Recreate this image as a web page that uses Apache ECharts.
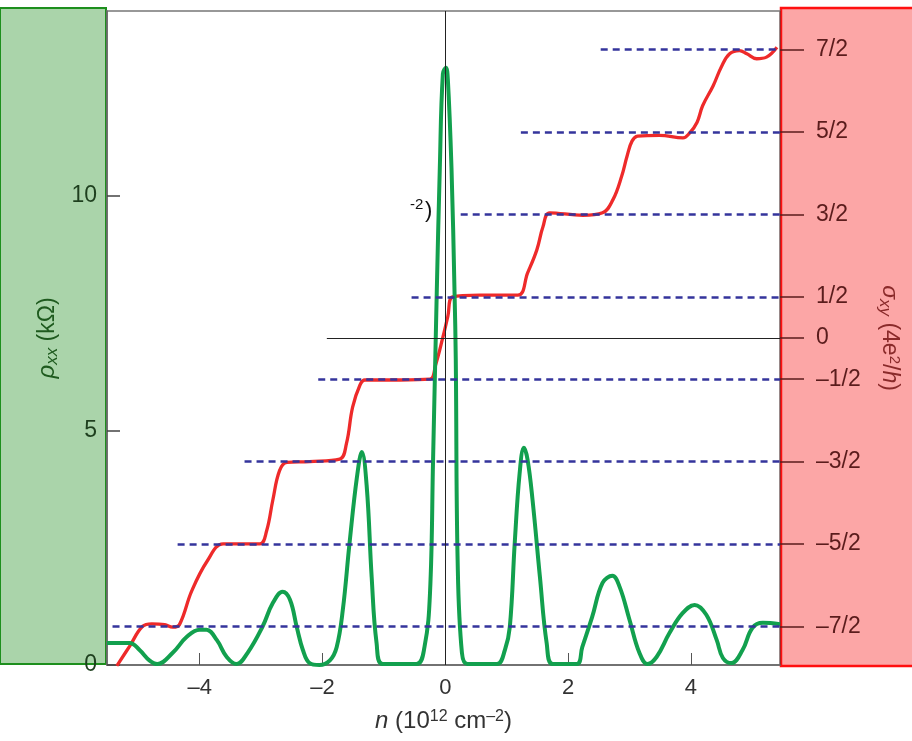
<!DOCTYPE html>
<html>
<head>
<meta charset="utf-8">
<script src="https://cdn.jsdelivr.net/npm/echarts@6/dist/echarts.min.js"></script>
<style>
  html, body { margin: 0; padding: 0; background: #fff; }
  #chart { width: 912px; height: 741px; }
</style>
</head>
<body>
<div id="chart"></div>
<script>
// rho_xx (kOhm) vs n, left axis
const rhoN = [-5.51, -5.14, -4.98, -4.82, -4.69, -4.44, -4.21, -4.00, -3.89, -3.72, -3.56, -3.40,
  -3.22, -2.98, -2.81, -2.65, -2.53, -2.42, -2.32, -2.21, -2.05, -1.88, -1.77, -1.67, -1.56,
  -1.44, -1.36, -1.28, -1.20, -1.12, -1.02, -0.47, -0.34, -0.25, -0.20, -0.14, -0.09, -0.04,
  0.01, 0.04, 0.10, 0.15, 0.17, 0.20, 0.27, 0.36, 0.84, 0.97, 1.05, 1.13, 1.21, 1.28, 1.34,
  1.42, 1.54, 1.65, 1.75, 2.14, 2.23, 2.39, 2.56, 2.72, 2.84, 3.00, 3.16, 3.29, 3.44, 3.65,
  3.86, 4.06, 4.25, 4.42, 4.52, 4.66, 4.84, 5.00, 5.17, 5.45]
const rhoVal = [0.47, 0.47, 0.32, 0.10, 0.02, 0.26, 0.60, 0.75, 0.75, 0.53, 0.17, 0.02,
  0.26, 0.81, 1.32, 1.56, 1.39, 0.81, 0.32, 0.04, 0.00, 0.10, 0.38, 1.17, 2.60,
  4.00, 4.54, 3.80, 1.88, 0.47, 0.02, 0.02, 0.38, 1.53, 4.37, 7.93, 10.6, 12.6,
  12.73, 12.5, 10.6, 7.93, 6.5, 2.24, 0.26, 0.02, 0.02, 0.32, 0.81, 2.60, 4.09, 4.63, 4.37,
  3.52, 1.88, 0.47, 0.02, 0.02, 0.38, 1.02, 1.75, 1.90, 1.66, 0.96, 0.26, 0.02, 0.17, 0.68,
  1.10, 1.28, 1.07, 0.53, 0.15, 0.04, 0.32, 0.79, 0.90, 0.87]

// sigma_xy (4e^2/h) vs n, right axis
const sigmaN = [-5.35, -5.14, -4.93, -4.78, -4.57, -4.44, -4.33, -4.13, -3.88, -3.62, -3.35,
  -3.02, -2.91, -2.81, -2.70, -2.58, -2.21, -1.72, -1.61, -1.51, -1.39, -1.31, -0.74, -0.25,
  -0.16, -0.04, 0.04, 0.12, 0.56, 1.18, 1.34, 1.49, 1.59, 1.70, 2.24, 2.56, 2.73, 2.87, 2.96,
  3.04, 3.13, 3.49, 3.87, 3.98, 4.10, 4.19, 4.36, 4.50, 4.63, 4.79, 4.91, 5.07, 5.23, 5.40]
const sigmaVal = [-3.98, -3.74, -3.50, -3.47, -3.48, -3.51, -3.48, -3.07, -2.71, -2.50, -2.50,
  -2.50, -2.34, -1.97, -1.61, -1.51, -1.50, -1.47, -1.28, -0.84, -0.57, -0.51, -0.51, -0.50,
  -0.33, 0.01, 0.26, 0.50, 0.52, 0.52, 0.79, 1.07, 1.35, 1.52, 1.49, 1.52, 1.68, 1.96, 2.21,
  2.39, 2.45, 2.46, 2.43, 2.49, 2.62, 2.82, 3.06, 3.30, 3.45, 3.49, 3.45, 3.39, 3.41, 3.53]

// plateau guides
const levels = [-3.5, -2.5, -1.5, -0.5, 0.5, 1.5, 2.5, 3.5]
const levelStarts = [-5.42, -4.36, -3.27, -2.07, -0.55, 0.25, 1.23, 2.53]
const zeroLineStart = -1.93

const xTicks = [-4, -2, 0, 2, 4]
const rhoTicks = [0, 5, 10]
const sigmaTicks = [-3.5, -2.5, -1.5, -0.5, 0, 0.5, 1.5, 2.5, 3.5]
const sigmaTickLabels = ['–7/2', '–5/2', '–3/2', '–1/2', '0', '1/2', '3/2', '5/2', '7/2']

const xMin = -5.51, xMax = 5.45
const font = 'Liberation Sans, Arial, Helvetica, sans-serif'

const chart = echarts.init(document.getElementById('chart'))

const option = {
  animation: false,
  backgroundColor: '#fff',
  grid: { left: 107, right: 132, top: 11, bottom: 76, show: true, borderColor: '#777', borderWidth: 1.5 },
  graphic: [
    { type: 'rect', z: -1, shape: { x: 0, y: 8, width: 106, height: 656 },
      style: { fill: '#aad4aa', stroke: '#1d8f1d', lineWidth: 2 } },
    { type: 'rect', z: -1, shape: { x: 781, y: 8, width: 140, height: 658 },
      style: { fill: '#fca6a6', stroke: '#ff1010', lineWidth: 2.5 } },
    { type: 'text', z: 10, left: 410, top: 197, style: { text: '-2', fontSize: 15, fill: '#111', fontFamily: font } },
    { type: 'text', z: 10, left: 425, top: 200, style: { text: ')', fontSize: 22, fill: '#111', fontFamily: font } }
  ],
  xAxis: {
    type: 'value', min: xMin, max: xMax,
    axisLine: { onZero: false, lineStyle: { color: '#666', width: 1.5 } },
    axisTick: { inside: true, length: 12, customValues: xTicks, lineStyle: { color: '#555' } },
    axisLabel: { customValues: xTicks, color: '#333', fontSize: 22, fontFamily: font, margin: 12,
      formatter: v => v < 0 ? '–' + Math.abs(v) : String(v) },
    splitLine: { show: false },
    name: '{i|n} (10{sup|12} cm{sup|–2})',
    nameLocation: 'middle', nameGap: 44,
    nameTextStyle: {
      color: '#333', fontSize: 24, fontFamily: font,
      rich: {
        i: { fontStyle: 'italic', fontSize: 24, color: '#333', fontFamily: font },
        sup: { fontSize: 16, verticalAlign: 'top', color: '#333', fontFamily: font, padding: [0, 0, 9, 0] }
      }
    }
  },
  yAxis: [
    {
      type: 'value', min: 0, max: 13.94, position: 'left',
      axisLine: { show: true, onZero: false, lineStyle: { color: '#666', width: 1.5 } },
      axisTick: { show: true, inside: true, length: 13, customValues: rhoTicks, lineStyle: { color: '#444', width: 1.5 } },
      axisLabel: { customValues: rhoTicks, color: '#1e3f1e', fontSize: 23, fontFamily: font, margin: 10 },
      splitLine: { show: false },
      name: '{i|ρ}{sub|xx} (kΩ)',
      nameLocation: 'middle', nameGap: 45, nameRotate: 90,
      nameTextStyle: {
        color: '#1e5a1e', fontSize: 23, fontFamily: font,
        rich: {
          i: { fontStyle: 'italic', fontSize: 24, color: '#1e5a1e', fontFamily: font },
          sub: { fontStyle: 'italic', fontSize: 17, verticalAlign: 'bottom', color: '#1e5a1e', fontFamily: font, padding: [9, 0, 0, 0] }
        }
      }
    },
    {
      type: 'value', min: -3.97, max: 3.97, position: 'right',
      axisLine: { show: true, onZero: false, lineStyle: { color: '#aa2222', width: 1 } },
      axisTick: { show: true, inside: false, length: 24, customValues: sigmaTicks, lineStyle: { color: '#5a1c1c', width: 1.5 } },
      axisLabel: { customValues: sigmaTicks, color: '#5a1c1c', fontSize: 23, fontFamily: font, margin: 36,
        formatter: v => sigmaTickLabels[sigmaTicks.indexOf(v)] },
      splitLine: { show: false },
      name: '{i|σ}{sub|xy} (4e{sup|2}/{i|h})',
      nameLocation: 'middle', nameGap: 96, nameRotate: -90,
      nameTextStyle: {
        color: '#8a2a2a', fontSize: 23, fontFamily: font,
        rich: {
          i: { fontStyle: 'italic', fontSize: 23, color: '#8a2a2a', fontFamily: font },
          sub: { fontStyle: 'italic', fontSize: 17, verticalAlign: 'bottom', color: '#8a2a2a', fontFamily: font, padding: [9, 0, 0, 0] },
          sup: { fontSize: 15, verticalAlign: 'top', color: '#8a2a2a', fontFamily: font, padding: [0, 0, 9, 0] }
        }
      }
    }
  ],
  series: [
    {
      name: 'guides', type: 'line', yAxisIndex: 1, data: [], silent: true,
      markLine: {
        symbol: 'none', silent: true, label: { show: false },
        lineStyle: { color: '#34349c', type: [7, 5], width: 2.5 },
        data: levels.map((lv, i) => [{ coord: [levelStarts[i], lv] }, { coord: [xMax, lv] }])
      }
    },
    {
      name: 'zero', type: 'line', yAxisIndex: 1, data: [], silent: true,
      markLine: {
        symbol: 'none', silent: true, label: { show: false },
        lineStyle: { color: '#222', type: 'solid', width: 1 },
        data: [
          { xAxis: 0 },
          [{ coord: [zeroLineStart, 0] }, { coord: [xMax, 0] }]
        ]
      }
    },
    {
      name: 'sigma_xy', type: 'line', yAxisIndex: 1, showSymbol: false,
      smooth: 0.4,
      lineStyle: { color: '#ee2a2a', width: 3.3 },
      data: sigmaN.map((n, i) => [n, sigmaVal[i]])
    },
    {
      name: 'rho_xx', type: 'line', yAxisIndex: 0, showSymbol: false,
      smooth: 0.4,
      lineStyle: { color: '#12a04e', width: 4 },
      data: rhoN.map((n, i) => [n, rhoVal[i]])
    }
  ]
}

chart.setOption(option)
</script>
</body>
</html>
